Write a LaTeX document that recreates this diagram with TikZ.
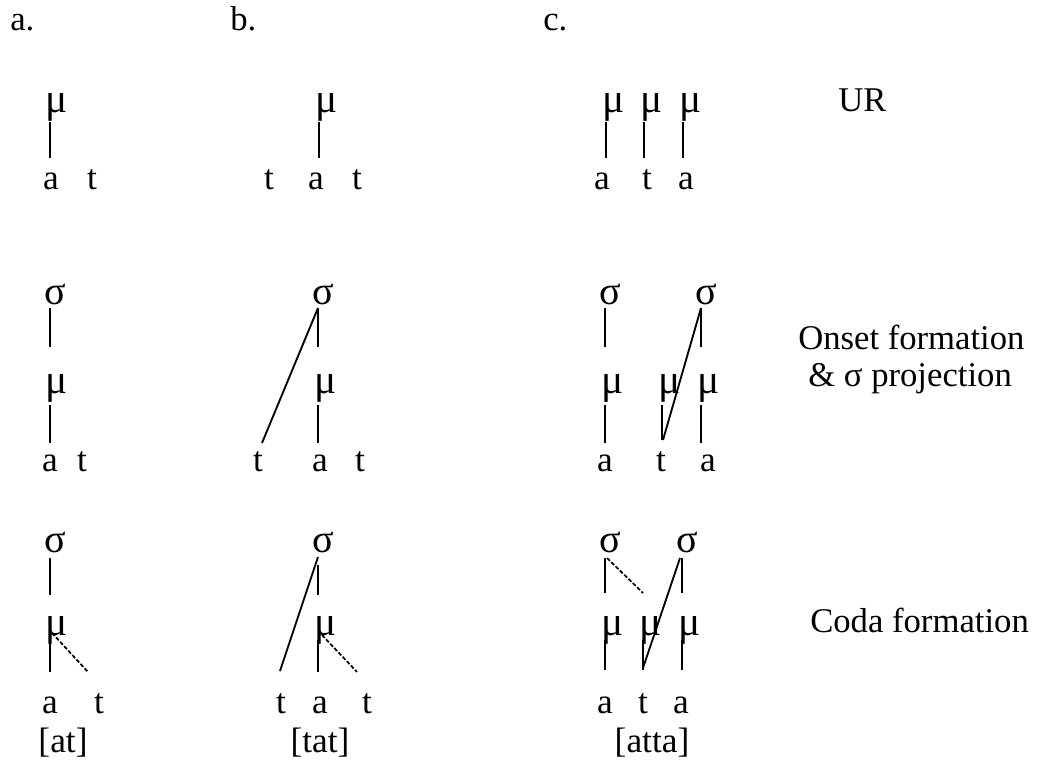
\documentclass[tikz,border=0pt]{standalone}
\usepackage{fontspec}
\setmainfont{Liberation Serif}
\usetikzlibrary{calc}
\newcommand{\gmu}{\makebox[0pt][l]{\fontsize{31}{34}\selectfont\kern-3pt μ}}
\newcommand{\gsig}{\makebox[0pt][l]{\fontsize{30}{34}\selectfont\kern-4.5pt σ}}
\begin{document}
\begin{tikzpicture}[x=0.75pt,y=-0.75pt,
  every node/.style={inner sep=0pt, anchor=base, font=\fontsize{26.5}{31}\selectfont},
  link/.style={line width=1.4pt},
  coda/.style={line width=1.3pt, dash pattern=on 3pt off 1.5pt},
  lbl/.style={anchor=base west, font=\fontsize{26}{31}\selectfont}]
\useasboundingbox (0,0) rectangle (1043,760);
% headers
\node[lbl] (ha) at (10,31) {a.};
\node[lbl] (hb) at (230,31) {b.};
\node[lbl] (hc) at (543,31) {c.};
% right labels
\node[lbl] (ur) at (838,111) {UR};
\node[lbl] (on1) at (798,349) {Onset formation};
\node[lbl] (on2) at (808,386) {\& σ projection};
\node[lbl] (cf) at (810,632) {Coda formation};

% ---------- Row 1 ----------
\node (a1m) at (50,112) {\gmu};
\node (a1a) at (51,189) {a};
\node (a1t) at (92,189) {t};
\draw[link] ($(a1m.base)+(0,10)$) -- ($(a1m.base |- a1a.base)+(0,-31)$);

\node (b1m) at (319,112) {\gmu};
\node (b1t) at (269,189) {t};
\node (b1a) at (316,189) {a};
\node (b1u) at (357,189) {t};
\draw[link] ($(b1m.base)+(0,10)$) -- ($(b1m.base |- b1a.base)+(0,-31)$);

\node (c1m1) at (606,112) {\gmu};
\node (c1m2) at (644,112) {\gmu};
\node (c1m3) at (683,112) {\gmu};
\node (c1a) at (602,189) {a};
\node (c1t) at (647,189) {t};
\node (c1b) at (686,189) {a};
\draw[link] ($(c1m1.base)+(0,10)$) -- ($(c1m1.base |- c1a.base)+(0,-31)$);
\draw[link] ($(c1m2.base)+(0,10)$) -- ($(c1m2.base |- c1t.base)+(0,-31)$);
\draw[link] ($(c1m3.base)+(0,10)$) -- ($(c1m3.base |- c1b.base)+(0,-31)$);

% ---------- Row 2 ----------
\node (a2s) at (50,304) {\gsig};
\node (a2m) at (50,393) {\gmu};
\node (a2a) at (50,471) {a};
\node (a2t) at (82,471) {t};
\draw[link] ($(a2s.base)+(0,4)$) -- ($(a2m.base)+(0,-46)$);
\draw[link] ($(a2m.base)+(0,12)$) -- ($(a2m.base |- a2a.base)+(0,-28)$);

\node (b2s) at (318,304) {\gsig};
\node (b2m) at (318,393) {\gmu};
\node (b2t) at (258,471) {t};
\node (b2a) at (320,471) {a};
\node (b2u) at (360,471) {t};
\draw[link] ($(b2s.base)+(0,4)$) -- ($(b2m.base)+(0,-46)$);
\draw[link] ($(b2m.base)+(0,12)$) -- ($(b2m.base |- b2a.base)+(0,-28)$);
\draw[link] ($(b2s.base)+(0,4)$) -- ($(b2t.base)+(4,-28)$);

\node (c2s1) at (605,304) {\gsig};
\node (c2s2) at (701,304) {\gsig};
\node (c2m1) at (605,393) {\gmu};
\node (c2m2) at (662,393) {\gmu};
\node (c2m3) at (701,393) {\gmu};
\node (c2a) at (605,471) {a};
\node (c2t) at (661,471) {t};
\node (c2b) at (708,471) {a};
\draw[link] ($(c2s1.base)+(0,4)$) -- ($(c2m1.base)+(0,-46)$);
\draw[link] ($(c2s2.base)+(0,4)$) -- ($(c2m3.base)+(0,-46)$);
\draw[link] ($(c2m1.base)+(0,12)$) -- ($(c2m1.base |- c2a.base)+(0,-28)$);
\draw[link] ($(c2m2.base)+(0,12)$) -- ($(c2m2.base |- c2t.base)+(0,-31)$);
\draw[link] ($(c2m3.base)+(0,12)$) -- ($(c2m3.base |- c2b.base)+(0,-28)$);
\draw[link] ($(c2s2.base)+(0,4)$) -- ($(c2t.base)+(2,-31)$);

% ---------- Row 3 ----------
\node (a3s) at (50,552) {\gsig};
\node (a3m) at (50,635) {\gmu};
\node (a3a) at (50,713) {a};
\node (a3t) at (99,713) {t};
\node (a3o) at (63,752) {[at]};
\draw[link] ($(a3s.base)+(0,6)$) -- ($(a3m.base)+(0,-40)$);
\draw[link] ($(a3m.base)+(0,5)$) -- ($(a3m.base |- a3a.base)+(0,-41)$);
\draw[coda] ($(a3m.base)+(2,-2)$) -- ($(a3t.base)+(-11,-41)$);

\node (b3s) at (318,552) {\gsig};
\node (b3m) at (318,635) {\gmu};
\node (b3t) at (281,713) {t};
\node (b3a) at (320,713) {a};
\node (b3u) at (367,713) {t};
\node (b3o) at (320,752) {[tat]};
\draw[link] ($(b3s.base)+(0,13)$) -- ($(b3m.base)+(0,-40)$);
\draw[link] ($(b3s.base)+(0,5)$) -- ($(b3t.base)+(-1,-42)$);
\draw[link] ($(b3m.base)+(0,5)$) -- ($(b3m.base |- b3a.base)+(0,-41)$);
\draw[coda] ($(b3m.base)+(4,0)$) -- ($(b3u.base)+(-10,-41)$);

\node (c3s1) at (605,552) {\gsig};
\node (c3s2) at (682,552) {\gsig};
\node (c3m1) at (605,635) {\gmu};
\node (c3m2) at (643,635) {\gmu};
\node (c3m3) at (682,635) {\gmu};
\node (c3a) at (605,713) {a};
\node (c3t) at (643,713) {t};
\node (c3b) at (681,713) {a};
\node (c3o) at (652,752) {[atta]};
\draw[link] ($(c3s1.base)+(0,6)$) -- ($(c3m1.base)+(0,-42)$);
\draw[link] ($(c3s2.base)+(0,6)$) -- ($(c3m3.base)+(0,-42)$);
\draw[coda] ($(c3s1.base)+(2,6)$) -- ($(c3m2.base)+(0,-42)$);
\draw[link] ($(c3s2.base)+(-2,6)$) -- ($(c3t.base)+(0,-45)$);
\draw[link] ($(c3m1.base)+(0,5)$) -- ($(c3m1.base |- c3a.base)+(0,-43)$);
\draw[link] ($(c3m2.base)+(0,5)$) -- ($(c3m2.base |- c3t.base)+(0,-43)$);
\draw[link] ($(c3m3.base)+(0,5)$) -- ($(c3m3.base |- c3b.base)+(0,-43)$);
\end{tikzpicture}
\end{document}
